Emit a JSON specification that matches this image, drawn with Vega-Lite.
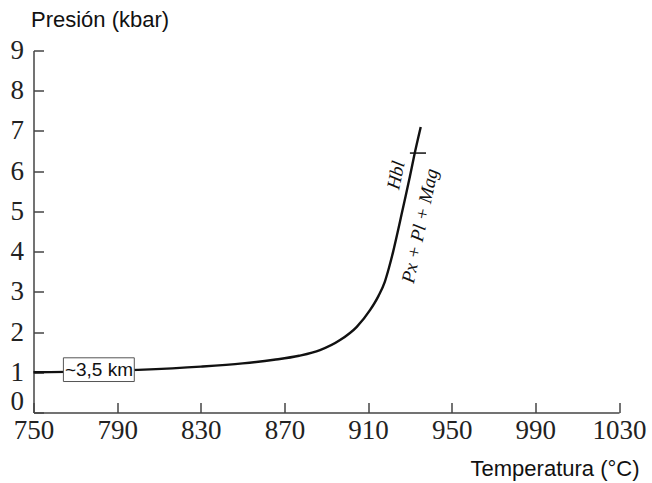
{
  "$schema": "https://vega.github.io/schema/vega-lite/v6.json",
  "width": 585.5,
  "height": 362,
  "autosize": "none",
  "padding": {"left": 33.5, "top": 50.5, "right": 33, "bottom": 70.5},
  "background": "white",
  "config": {"view": {"stroke": null}},
  "datasets": {
    "curve": [
      {"T": 750, "P": 1.0},
      {"T": 800, "P": 1.06},
      {"T": 830, "P": 1.14},
      {"T": 850, "P": 1.22},
      {"T": 865, "P": 1.31},
      {"T": 877, "P": 1.41},
      {"T": 887, "P": 1.55},
      {"T": 896.6, "P": 1.8},
      {"T": 904.6, "P": 2.13},
      {"T": 911, "P": 2.55},
      {"T": 915, "P": 2.9},
      {"T": 918, "P": 3.25},
      {"T": 920, "P": 3.6},
      {"T": 922, "P": 4.0},
      {"T": 924, "P": 4.45},
      {"T": 926, "P": 4.92},
      {"T": 928, "P": 5.39},
      {"T": 930, "P": 5.87},
      {"T": 932, "P": 6.37},
      {"T": 935.2, "P": 7.1}
    ],
    "cross": [{"T1": 930, "T2": 937.7, "P": 6.45}],
    "box": [{"T1": 764.3, "T2": 798.2, "P1": 0.77, "P2": 1.36, "label": "~3,5 km", "Tc": 781.3, "Pc": 1.065}],
    "labels": [
      {"T": 923.4, "P": 5.9, "label": "Hbl"},
      {"T": 934.8, "P": 4.64, "label": "Px + Pl + Mag"}
    ]
  },
  "layer": [
    {
      "data": {"name": "curve"},
      "mark": {"type": "line", "interpolate": "monotone", "color": "#111", "strokeWidth": 2.4},
      "encoding": {
        "x": {
          "field": "T", "type": "quantitative",
          "scale": {"domain": [750, 1030], "nice": false, "zero": false},
          "axis": {
            "values": [750, 790, 830, 870, 910, 950, 990, 1030],
            "format": "d",
            "grid": false,
            "domainColor": "#444", "domainWidth": 1.5,
            "tickColor": "#444", "tickWidth": 1.5, "tickSize": -10,
            "labelFont": "Liberation Serif", "labelFontSize": 27, "labelColor": "#222",
            "labelPadding": 15, "labelFlush": false,
            "title": "Temperatura (°C)",
            "titleFont": "Liberation Sans", "titleFontSize": 22, "titleFontWeight": "normal", "titleColor": "#111",
            "titleAnchor": null, "titleAlign": "right", "titleBaseline": "alphabetic",
            "titleX": 605.5, "titleY": 63
          }
        },
        "y": {
          "field": "P", "type": "quantitative",
          "scale": {"domain": [0, 9], "nice": false},
          "axis": {
            "values": [0, 1, 2, 3, 4, 5, 6, 7, 8, 9],
            "grid": false,
            "domainColor": "#444", "domainWidth": 1.5,
            "tickColor": "#444", "tickWidth": 1.5, "tickSize": -10,
            "labelFont": "Liberation Serif", "labelFontSize": 27, "labelColor": "#222",
            "labelPadding": 20, "labelFlush": false,
            "labelBaseline": {"condition": {"test": "datum.value === 0", "value": "alphabetic"}, "value": "middle"},
            "labelOffset": {"condition": {"test": "datum.value === 0", "value": -3}, "value": 0},
            "title": "Presión (kbar)",
            "titleFont": "Liberation Sans", "titleFontSize": 22, "titleFontWeight": "normal", "titleColor": "#111",
            "titleAngle": 0, "titleAnchor": null, "titleAlign": "left", "titleBaseline": "alphabetic",
            "titleX": -3, "titleY": -24
          }
        }
      }
    },
    {
      "data": {"name": "cross"},
      "mark": {"type": "rule", "color": "#111", "strokeWidth": 1.5},
      "encoding": {
        "x": {"field": "T1", "type": "quantitative"},
        "x2": {"field": "T2"},
        "y": {"field": "P", "type": "quantitative"}
      }
    },
    {
      "data": {"name": "box"},
      "mark": {"type": "rect", "fill": "white", "stroke": "#555", "strokeWidth": 1},
      "encoding": {
        "x": {"field": "T1", "type": "quantitative"},
        "x2": {"field": "T2"},
        "y": {"field": "P1", "type": "quantitative"},
        "y2": {"field": "P2"}
      }
    },
    {
      "data": {"name": "box"},
      "mark": {"type": "text", "font": "Liberation Sans", "fontSize": 19, "color": "#111", "align": "center", "baseline": "middle"},
      "encoding": {
        "x": {"field": "Tc", "type": "quantitative"},
        "y": {"field": "Pc", "type": "quantitative"},
        "text": {"field": "label"}
      }
    },
    {
      "data": {"name": "labels"},
      "mark": {"type": "text", "font": "Liberation Serif", "fontStyle": "italic", "fontSize": 19, "color": "#111", "align": "center", "baseline": "middle", "angle": -78},
      "encoding": {
        "x": {"field": "T", "type": "quantitative"},
        "y": {"field": "P", "type": "quantitative"},
        "text": {"field": "label"}
      }
    }
  ]
}
